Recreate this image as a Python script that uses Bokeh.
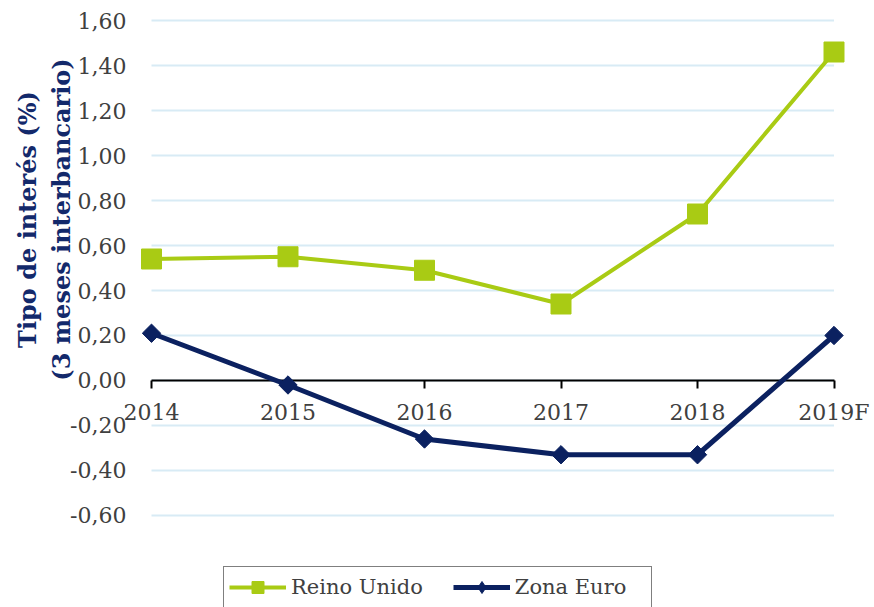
import math
from bokeh.plotting import figure
from bokeh.models import (Range1d, FixedTicker, CustomJSTickFormatter, Label,
                          Legend, LegendItem, ColumnDataSource)
from bokeh.embed import file_html
from bokeh.resources import INLINE

categories = ["2014", "2015", "2016", "2017", "2018", "2019F"]
reino_unido = [0.54, 0.55, 0.49, 0.34, 0.74, 1.46]
zona_euro = [0.21, -0.02, -0.26, -0.33, -0.33, 0.20]
y_ticks = [-0.6, -0.4, -0.2, 0.0, 0.2, 0.4, 0.6, 0.8, 1.0, 1.2, 1.4, 1.6]

GREEN = "#A9CB14"
NAVY = "#0B2160"
TITLE_NAVY = "#13296B"
GRID = "#D8EBF5"
TEXT = "#404040"
FONT = "DejaVu Serif"

xs = list(range(len(categories)))

# frame covers the whole canvas; ranges chosen so that the category
# positions and value gridlines fall where they do in the reference
p = figure(width=874, height=607, output_backend="svg", toolbar_location=None,
           x_range=Range1d(-1.10623, 5.29670), y_range=Range1d(-1.00889, 1.68889),
           min_border_left=0, min_border_right=0, min_border_top=0,
           min_border_bottom=0)
p.outline_line_color = None
p.xgrid.visible = False
p.ygrid.visible = False

grid_src = ColumnDataSource(dict(x0=[xs[0]] * len(y_ticks),
                                 x1=[xs[-1]] * len(y_ticks), y=y_ticks))
p.segment(x0="x0", x1="x1", y0="y", y1="y", source=grid_src,
          line_color=GRID, line_width=2, level="image")

# x axis drawn at y = 0
xa = p.xaxis[0]
xa.fixed_location = 0
xa.bounds = (xs[0], xs[-1])
xa.ticker = FixedTicker(ticks=xs)
xa.major_label_overrides = {i: c for i, c in enumerate(categories)}
xa.major_tick_out = 8
xa.major_tick_in = 0
xa.minor_tick_line_color = None
xa.axis_line_color = "black"
xa.axis_line_width = 2
xa.major_tick_line_color = "black"
xa.major_tick_line_width = 2
xa.major_label_text_font = FONT
xa.major_label_text_font_size = "22px"
xa.major_label_text_color = TEXT
xa.major_label_standoff = 12
xa.level = "underlay"

# y axis anchored at the first category, labels only
ya = p.yaxis[0]
ya.fixed_location = xs[0]
ya.ticker = FixedTicker(ticks=y_ticks)
ya.formatter = CustomJSTickFormatter(code="return tick.toFixed(2).replace('.', ',');")
ya.axis_line_color = None
ya.major_tick_line_color = None
ya.minor_tick_line_color = None
ya.major_tick_out = 0
ya.major_tick_in = 0
ya.major_label_standoff = 25
ya.major_label_text_font = FONT
ya.major_label_text_font_size = "22px"
ya.major_label_text_color = TEXT

l1 = p.line(xs, reino_unido, line_color=GREEN, line_width=4)
s1 = p.scatter(xs, reino_unido, marker="square", size=20, color=GREEN)
l2 = p.line(xs, zona_euro, line_color=NAVY, line_width=5)
s2 = p.scatter(xs, zona_euro, marker="square", angle=math.pi / 4, size=13, color=NAVY)
# zero-size diamond used only for the legend swatch
s2_key = p.scatter(xs, zona_euro, marker="diamond", size=0, color=NAVY)

legend = Legend(items=[LegendItem(label="Reino Unido", renderers=[l1, s1]),
                       LegendItem(label="Zona Euro", renderers=[l2, s2_key])],
                orientation="horizontal", location=(223, -1),
                glyph_width=57, glyph_height=30, label_standoff=5, spacing=30,
                label_width=131, padding=5, margin=0,
                border_line_color="black", border_line_width=1,
                label_text_font=FONT, label_text_font_size="21px",
                label_text_color=TEXT, background_fill_alpha=0)
p.add_layout(legend, "center")

title = Label(x=-0.7839, y=0.7155, text="Tipo de interés (%)\n(3 meses interbancario)",
              angle=math.pi / 2, text_align="center", text_baseline="middle",
              text_font=FONT, text_font_style="bold", text_font_size="24px",
              text_color=TITLE_NAVY, text_line_height=1.2)
p.add_layout(title)

open("out.html", "w").write(file_html(p, INLINE))
